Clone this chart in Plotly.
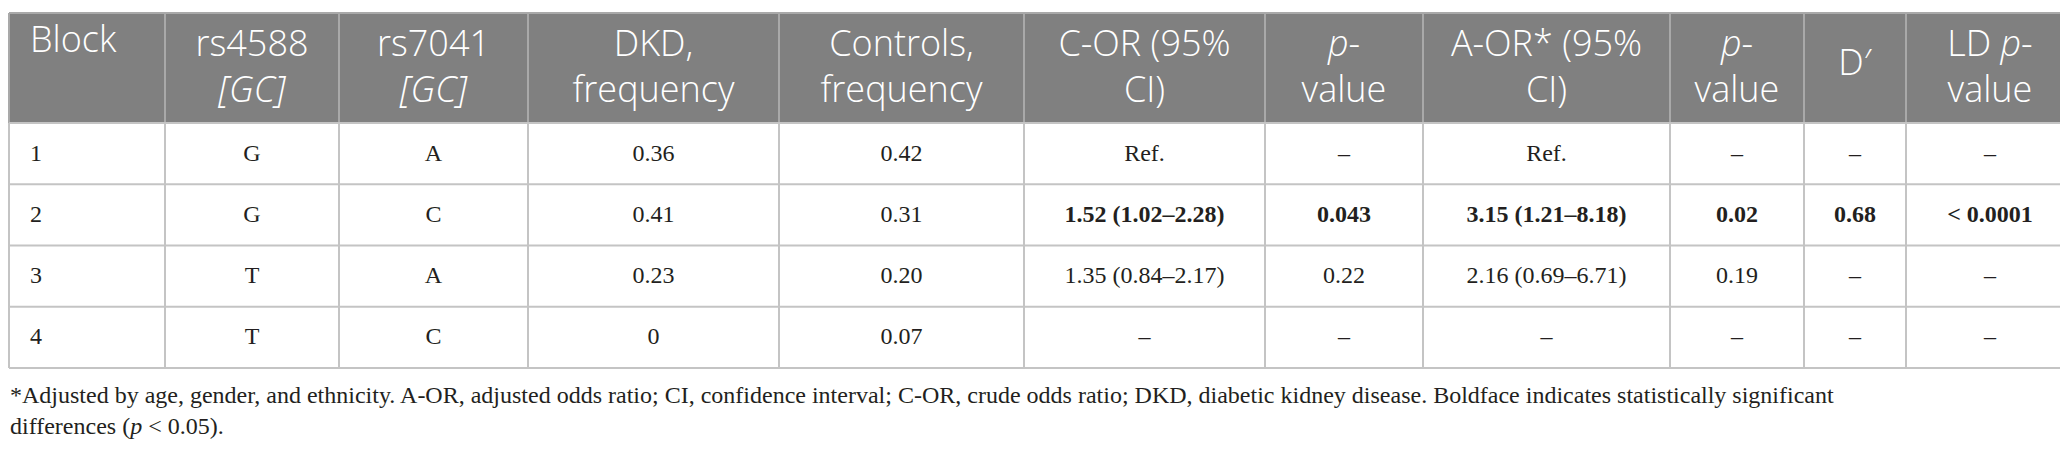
import plotly.graph_objects as go

# ---- data ----
blocks = ["1", "2", "3", "4"]
rs4588 = ["G", "G", "T", "T"]
rs7041 = ["A", "C", "A", "C"]
dkd_freq = [0.36, 0.41, 0.23, 0]
ctrl_freq = [0.42, 0.31, 0.20, 0.07]
c_or = ["Ref.", "1.52 (1.02–2.28)", "1.35 (0.84–2.17)", "–"]
c_or_p = ["–", "0.043", "0.22", "–"]
a_or = ["Ref.", "3.15 (1.21–8.18)", "2.16 (0.69–6.71)", "–"]
a_or_p = ["–", "0.02", "0.19", "–"]
d_prime = ["–", "0.68", "–", "–"]
ld_p = ["–", "< 0.0001", "–", "–"]
significant = [False, True, False, False]

headers = ["Block", "rs4588<br><i>[GC]</i>", "rs7041<br><i>[GC]</i>", "DKD,<br>frequency",
           "Controls,<br>frequency", "C-OR (95%<br>CI)", "<i>p</i>-<br>value",
           "A-OR* (95%<br>CI)", "<i>p</i>-<br>value", "D′", "LD <i>p</i>-<br>value"]

footnote = ("*Adjusted by age, gender, and ethnicity. A-OR, adjusted odds ratio; CI, confidence interval; "
            "C-OR, crude odds ratio; DKD, diabetic kidney disease. Boldface indicates statistically significant"
            "<br>differences (<i>p</i> < 0.05).")

# ---- layout (pixel geometry) ----
W, H = 2068, 450
col_widths = [156, 174, 189, 251, 245, 241, 158, 247, 134, 102, 168]
x_start = 1
table_top = 5
header_bottom = 115
row_h = 61.25
block_pad = 21

edges = [x_start]
for w in col_widths:
    edges.append(edges[-1] + w)
centers = [(edges[i] + edges[i + 1]) / 2 for i in range(len(col_widths))]
row_edges = [header_bottom + i * row_h for i in range(len(blocks) + 1)]
row_centers = [(row_edges[i] + row_edges[i + 1]) / 2 + 1 for i in range(len(blocks))]

HEADER_BG = "#808080"
HEADER_LINE = "#a9a9a9"
GRID = "#c4c4c4"
TEXT = "#231f20"
SERIF = "Liberation Serif"
SANS = "Open Sans"


def fmt_freq(v):
    return "0" if v == 0 else f"{v:.2f}"


columns = [
    blocks,
    rs4588,
    rs7041,
    [fmt_freq(v) for v in dkd_freq],
    [fmt_freq(v) for v in ctrl_freq],
    c_or, c_or_p, a_or, a_or_p, d_prime, ld_p,
]

fig = go.Figure()

# header background + lines
shapes = [dict(type="rect", xref="x", yref="y", x0=edges[0], x1=edges[-1],
               y0=table_top, y1=header_bottom, fillcolor=HEADER_BG, line=dict(width=0), layer="below")]
shapes.append(dict(type="line", xref="x", yref="y", x0=edges[0], x1=edges[-1],
                   y0=table_top, y1=table_top, line=dict(color=HEADER_LINE, width=2)))
for e in edges:
    shapes.append(dict(type="line", xref="x", yref="y", x0=e, x1=e,
                       y0=table_top, y1=header_bottom, line=dict(color=HEADER_LINE, width=2)))
# body grid
for r in row_edges:
    shapes.append(dict(type="line", xref="x", yref="y", x0=edges[0], x1=edges[-1],
                       y0=r, y1=r, line=dict(color=GRID, width=2)))
for e in edges:
    shapes.append(dict(type="line", xref="x", yref="y", x0=e, x1=e,
                       y0=header_bottom, y1=row_edges[-1], line=dict(color=GRID, width=2)))

# header text
hx, hy, ht, hp = [], [], [], []
for i, h in enumerate(headers):
    if i == 0:
        hx.append(edges[0] + block_pad); hy.append(table_top + 30); hp.append("middle right")
    elif "<br>" in h:
        hx.append(centers[i]); hy.append((table_top + header_bottom) / 2 + 2); hp.append("middle center")
    else:
        hx.append(centers[i]); hy.append((table_top + header_bottom) / 2 - 2); hp.append("middle center")
    ht.append(h)
fig.add_trace(go.Scatter(
    x=hx, y=hy, text=ht, mode="text", textposition=hp,
    textfont=dict(family=SANS, size=36, color="white", weight=300),
    hoverinfo="skip", showlegend=False,
))

# body text
bx, by, bt, bp = [], [], [], []
for ci, col in enumerate(columns):
    for ri, v in enumerate(col):
        txt = f"<b>{v}</b>" if (ci >= 5 and significant[ri]) else v
        if ci == 0:
            bx.append(edges[0] + block_pad); bp.append("middle right")
        else:
            bx.append(centers[ci]); bp.append("middle center")
        by.append(row_centers[ri])
        bt.append(txt)
fig.add_trace(go.Scatter(
    x=bx, y=by, text=bt, mode="text", textposition=bp,
    textfont=dict(family=SERIF, size=24, color=TEXT),
    hoverinfo="skip", showlegend=False,
))

fig.add_annotation(
    text=footnote, xref="x", yref="y", x=0, y=372,
    xanchor="left", yanchor="top", align="left", showarrow=False,
    font=dict(family=SERIF, size=24, color=TEXT),
)

fig.update_layout(
    width=W, height=H,
    margin=dict(l=0, r=0, t=0, b=0),
    paper_bgcolor="white", plot_bgcolor="white",
    shapes=shapes,
    xaxis=dict(range=[0, W], visible=False, fixedrange=True),
    yaxis=dict(range=[H, 0], visible=False, fixedrange=True),
)

fig.write_html("out.html")
